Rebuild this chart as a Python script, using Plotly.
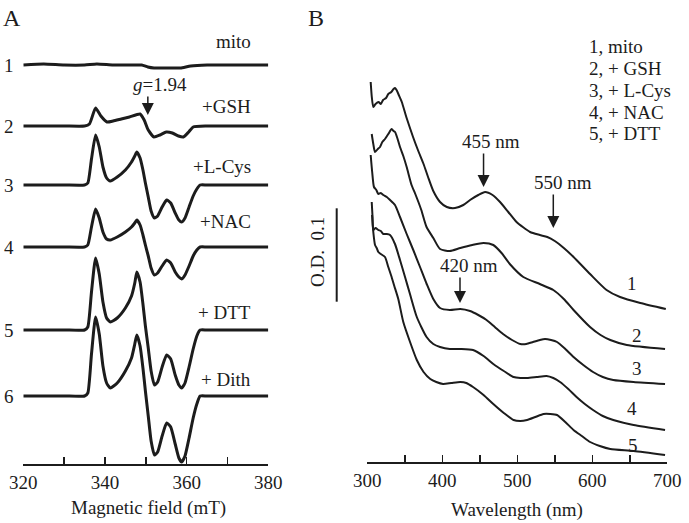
import plotly.graph_objects as go

FONT = "Liberation Serif, Times New Roman, serif"
INK = "#1c1c1c"
W, H = 689, 523

# ---------------- Panel A : EPR spectra (signal heights, arbitrary units) ----------------
field_mito = [320, 325, 330, 335, 338, 342, 346, 349, 350.5, 352, 356, 358.5, 361, 365, 370, 375, 380]
epr_mito = [0, 1, 0, 0, 1, 0, 0, 0, -2, -3, -3, -3, -1, 0, 0, 0, 0]

field_gsh = [320, 330, 335, 336.2, 337.7, 339, 340.5, 342, 344, 346, 348.6, 349.6, 350.6, 352,
             353.5, 355, 356.5, 358, 359.2, 360.5, 361.6, 365, 380]
epr_gsh = [0, 0, 0, 2, 18, 10, 4, 5, 7, 9, 12, 6, -4, -11, -9, -6, -7, -10, -11, -6, -1, 0, 0]

field_common = [320, 330, 335, 335.8, 336.7, 337.7, 338.6, 339.5, 340.4, 341.3, 343, 345, 346.5,
                347.3, 347.8, 348.6, 349.3, 349.9, 350.6, 351.3, 352.1, 352.9, 354, 355.1, 356.1,
                357.2, 358.1, 358.8, 359.6, 360.6, 361.6, 362.5, 363.3, 365, 380]
epr_lcys = [0, 0, 0, 2, 26, 50, 38, 18, 7, 4, 8, 15, 23, 29, 33, 27, 15, 2, -12, -26, -33, -31,
            -22, -15, -18, -28, -35, -37, -33, -22, -11, -4, 0, 0, 0]
epr_nac = [0, 0, 0, 2, 20, 38, 29, 15, 8, 7, 10, 15, 20, 24, 27, 22, 12, 2, -9, -21, -28, -26,
           -19, -13, -16, -25, -30, -32, -28, -19, -9, -3, 0, 0, 0]
epr_dtt = [0, 0, 0, 3, 38, 72, 56, 28, 12, 8, 12, 22, 34, 47, 58, 48, 26, 4, -18, -41, -55, -52,
           -37, -25, -29, -45, -55, -58, -53, -37, -19, -6, 0, 0, 0]
epr_dith = [0, 0, 0, 3, 42, 79, 62, 30, 13, 8, 13, 25, 38, 52, 61, 50, 28, 5, -20, -45, -59, -56,
            -40, -27, -31, -48, -62, -66, -60, -42, -22, -8, 0, 0, 0]

epr_numbers = ["1", "2", "3", "4", "5", "6"]
epr_names = ["mito", "+GSH", "+L-Cys", "+NAC", "+ DTT", "+ Dith"]
epr_offsets = [399, 338, 279, 217, 134, 68]
epr_ticks = [320, 340, 360, 380]
epr_minor = [330, 350, 370]
g_marker_field = 350.5

# ---------------- Panel B : UV-vis spectra (absorbance, arbitrary units; 94 units = 0.1 OD) ----------------
wl_1 = [304.5, 306, 308, 311, 315, 318, 321, 325, 328, 332, 335, 337, 339, 342, 346, 352, 361, 368,
        375, 381, 388, 397, 406, 417, 428, 437, 448, 457, 467, 477, 488, 499, 517, 530, 540, 550,
        562, 575, 597, 619, 637, 664, 698]
od_1 = [380, 365, 355, 358, 360, 358, 362, 364, 368, 370, 373, 374, 372, 367, 360, 345, 325, 311,
        298, 285, 271, 260, 255, 254, 257, 262, 267, 270, 267, 260, 250, 240, 230, 227, 225, 221,
        214, 205, 188, 172, 165, 159, 153]

wl_2 = [305.9, 308, 310.3, 314, 317, 320, 323.6, 328, 332.5, 335, 337, 340, 343.6, 348, 352.5, 359,
        364, 372, 379, 388, 397, 410, 424, 440, 455, 468, 479, 490, 508, 530, 548, 562, 575, 597,
        611, 624, 646, 697]
od_2 = [328, 318, 310, 313, 315, 320, 323, 328, 333, 331, 330, 324, 315, 306, 295, 277, 268, 252,
        235, 224, 213, 211, 214, 217, 219, 217, 209, 198, 185, 178, 172, 163, 152, 135, 127, 122,
        117, 113]

wl_3 = [304.5, 306.5, 308.9, 312, 314.7, 318, 321.3, 326, 330.3, 336.9, 343.6, 352.5, 361.3, 370.3,
        379.2, 388, 397, 410, 424, 437, 448, 459, 470, 481, 493, 504, 512, 521, 530, 537, 545, 553,
        564, 575, 588, 601, 614, 628, 655, 697]
od_3 = [307, 290, 275, 272, 268, 269, 267, 265, 262, 257, 245, 228, 212, 195, 178, 163, 154, 152,
        153, 151, 147, 142, 135, 128, 122, 118, 118, 120, 122, 123, 122, 120, 113, 105, 97, 90, 85,
        82, 80, 78]

wl_4 = [305.9, 307, 308, 311, 314.7, 318, 321.3, 326, 330.3, 336.9, 343.6, 350.3, 356.9, 366, 379,
        388, 397, 410, 424, 441, 455, 468, 482, 495, 504, 513, 526, 539, 548, 557, 568, 579, 590,
        601, 614, 628, 655, 697]
od_4 = [260, 245, 232, 234, 232, 231, 228, 228, 227, 218, 202, 185, 168, 145, 125, 118, 115, 113,
        113, 112, 106, 98, 91, 85, 84, 84, 85, 86, 84, 80, 73, 65, 58, 52, 46, 42, 37, 32]

wl_5 = [306.3, 308, 310.3, 312.5, 314.7, 318, 323.6, 328, 332, 336, 341.3, 348, 357, 366, 375, 384,
        392, 401, 412, 424, 432, 441, 455, 468, 482, 495, 504, 513, 524, 535, 544, 553, 564, 575,
        586, 597, 610, 624, 655, 697]
od_5 = [247, 230, 217, 214, 210, 208, 205, 195, 186, 176, 163, 140, 120, 102, 90, 83, 80, 78, 79,
        80, 79, 75, 67, 58, 49, 42, 41, 42, 45, 48, 48, 47, 40, 32, 26, 20, 16, 13, 11, 7]

uv_numbers = ["1", "2", "3", "4", "5"]
uv_legend = ["1, mito", "2, + GSH", "3, + L-Cys", "4, + NAC", "5, + DTT"]
uv_ticks = [300, 400, 500, 600, 700]
uv_minor = [350, 450, 550, 650]
uv_marks = [("455 nm", 455, 275), ("550 nm", 548, 234), ("420 nm", 423.6, 159)]


def px(x):
    return x / W


def py(y):
    return 1 - y / H


fig = go.Figure()

epr_x = [field_mito, field_gsh, field_common, field_common, field_common, field_common]
epr_y = [epr_mito, epr_gsh, epr_lcys, epr_nac, epr_dtt, epr_dith]
for fx, fy, off in zip(epr_x, epr_y, epr_offsets):
    fig.add_trace(go.Scatter(x=fx, y=[v + off for v in fy], mode="lines",
                             line=dict(color=INK, width=3, shape="spline", smoothing=0.5),
                             xaxis="x", yaxis="y", showlegend=False, hoverinfo="skip"))

for wx, wy in zip([wl_1, wl_2, wl_3, wl_4, wl_5], [od_1, od_2, od_3, od_4, od_5]):
    fig.add_trace(go.Scatter(x=wx, y=wy, mode="lines",
                             line=dict(color=INK, width=2, shape="spline", smoothing=0.6),
                             xaxis="x2", yaxis="y2", showlegend=False, hoverinfo="skip"))

axis_common = dict(showline=True, linewidth=2, linecolor=INK, ticks="inside", ticklen=7,
                   tickwidth=1.5, tickcolor=INK, showgrid=False, zeroline=False, automargin=False,
                   tickfont=dict(family=FONT, size=19, color=INK))

fig.update_layout(
    width=W, height=H, autosize=False,
    margin=dict(l=0, r=0, t=0, b=0, pad=0, autoexpand=False),
    paper_bgcolor="white", plot_bgcolor="white",
    showlegend=False,
    xaxis=dict(domain=[px(23.3), px(268.3)], range=[320, 380], tickvals=epr_ticks,
               minor=dict(tickvals=epr_minor, ticks="inside", ticklen=7, tickwidth=1.5, tickcolor=INK),
               anchor="y", **axis_common),
    yaxis=dict(domain=[py(464), py(30)], range=[0, 434], visible=False, fixedrange=True),
    xaxis2=dict(domain=[px(367.3), px(667.3)], range=[300, 700], tickvals=uv_ticks,
                minor=dict(tickvals=uv_minor, ticks="inside", ticklen=7, tickwidth=1.5, tickcolor=INK),
                anchor="y2", **axis_common),
    yaxis2=dict(domain=[py(462), py(30)], range=[0, 432], visible=False, fixedrange=True),
)

ann = []


def text(t, x, y, size=19, xanchor="center", **kw):
    ann.append(dict(text=t, x=px(x), y=py(y), xref="paper", yref="paper", showarrow=False,
                    xanchor=xanchor, yanchor="middle",
                    font=dict(family=FONT, size=size, color=INK), **kw))


# panel letters
text("A", 12, 18, size=24)
text("B", 316, 18, size=24)

# axis titles
text("Magnetic field (mT)", 148, 508, size=19)
text("Wavelength (nm)", 517, 510, size=19)

# EPR labels
for num, off in zip(epr_numbers, epr_offsets):
    ann.append(dict(text=num, x=px(8.5), y=off, xref="paper", yref="y", showarrow=False,
                    xanchor="center", yanchor="middle", font=dict(family=FONT, size=19, color=INK)))
for name, yy in zip(epr_names, [41.7, 106.7, 166, 221.7, 312.5, 379]):
    text(name, 253, yy, xanchor="right")

text("<i>g</i>=1.94", 160, 84)
ann.append(dict(text="", x=g_marker_field, y=464 - 115, xref="x", yref="y", ax=0, ay=-20,
                showarrow=True, arrowhead=2, arrowsize=1.6, arrowwidth=1.5, arrowcolor=INK))

# UV labels
for num, yy, xx in zip(uv_numbers, [283, 335, 368, 408, 445], [632, 637, 637, 632, 633]):
    text(num, xx, yy)
for i, line in enumerate(uv_legend):
    text(line, 586.7, 46.7 + 21.8 * i, xanchor="left")

for (label, wl, od), (tx, ty), ay in zip(uv_marks, [(491, 141.5), (562.5, 182.5), (469, 265)],
                                         [-35, -35, -27]):
    text(label, tx, ty)
    ann.append(dict(text="", x=wl, y=od, xref="x2", yref="y2", ax=0, ay=ay, showarrow=True,
                    arrowhead=2, arrowsize=1.6, arrowwidth=1.5, arrowcolor=INK))

# O.D. scale bar
text("O.D.  0.1", 317.5, 252.5, textangle=-90)
fig.add_shape(type="line", xref="paper", yref="paper", x0=px(336.7), x1=px(336.7),
              y0=py(208.3), y1=py(301.7), line=dict(color=INK, width=2))

fig.update_layout(annotations=ann)
fig.write_html("out.html", config={"displayModeBar": False, "staticPlot": True},
               post_script="document.body.style.margin='0px';document.body.style.overflow='hidden';")
